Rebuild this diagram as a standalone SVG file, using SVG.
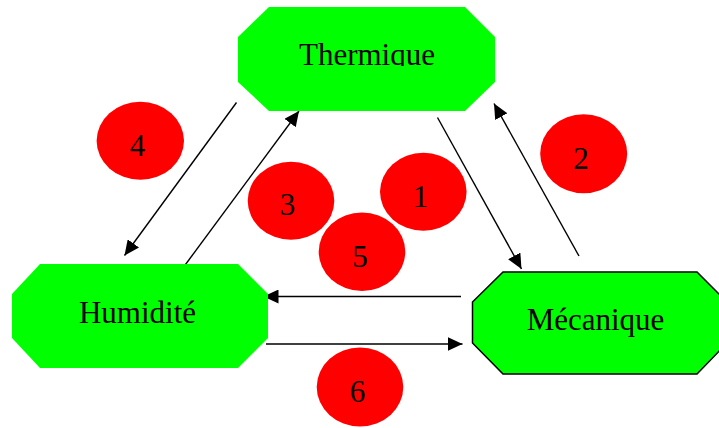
<svg xmlns="http://www.w3.org/2000/svg" width="719" height="428" viewBox="0 0 719 428">
<style>
.oct{fill:#00FF00;}
.mec{stroke:#000;stroke-width:1.5;}
.lbl{font-family:"Liberation Serif","Times New Roman",serif;font-size:31px;fill:#000;text-anchor:middle;}
.badge{fill:#FF0000;}
.con{stroke:#000;stroke-width:1.4;fill:none;marker-end:url(#ah);}
</style>
<defs>
<marker id="ah" markerUnits="userSpaceOnUse" markerWidth="16" markerHeight="14" refX="15" refY="7" orient="auto">
<path d="M0,0 L15,7 L0,14 z" fill="#000"/>
</marker>
<clipPath id="clipT"><rect x="238" y="7" width="258" height="59"/></clipPath>
</defs>
<rect width="719" height="428" fill="#fff"/>
<g id="connectors">
<line class="con" x1="236.5" y1="102.5" x2="124.5" y2="255.5"/>
<line class="con" x1="185.5" y1="264.5" x2="299" y2="111"/>
<line class="con" x1="437.5" y1="117.5" x2="521.5" y2="269"/>
<line class="con" x1="579" y1="256" x2="494" y2="103.5"/>
<line class="con" x1="461" y1="296.5" x2="263.5" y2="296.5"/>
<line class="con" x1="266" y1="344" x2="462.5" y2="344"/>
</g>
<g id="thermique">
<polygon class="oct" points="269,7 465,7 495,37 495,82 465,111 269,111 238,82 238,37"/>
<text class="lbl" x="367" y="65" clip-path="url(#clipT)">Thermique</text>
</g>
<g id="humidite">
<polygon class="oct" points="40,264 238,264 268,294 268,338 238,368 40,368 12,338 12,294"/>
<text class="lbl" x="137.5" y="323">Humidité</text>
</g>
<g id="mecanique">
<polygon class="oct mec" points="503,272 697,272 727,302 727,343 697,374 503,374 472.5,343 472.5,302"/>
<text class="lbl" x="595.5" y="330">Mécanique</text>
</g>
<g id="badge1"><ellipse class="badge" cx="423.3" cy="191.8" rx="43.3" ry="39"/><text class="lbl" x="420.5" y="206.5">1</text></g>
<g id="badge2"><ellipse class="badge" cx="583.7" cy="153.7" rx="43.5" ry="39.5"/><text class="lbl" x="581" y="169">2</text></g>
<g id="badge3"><ellipse class="badge" cx="291" cy="200.8" rx="43.3" ry="39"/><text class="lbl" x="287.5" y="215">3</text></g>
<g id="badge4"><ellipse class="badge" cx="140.3" cy="140.8" rx="43.7" ry="39"/><text class="lbl" x="137.5" y="155.5">4</text></g>
<g id="badge5"><ellipse class="badge" cx="362" cy="251.7" rx="43.3" ry="39.3"/><text class="lbl" x="360" y="266.5">5</text></g>
<g id="badge6"><ellipse class="badge" cx="360" cy="387" rx="43.3" ry="39.5"/><text class="lbl" x="357.5" y="402">6</text></g>
</svg>
